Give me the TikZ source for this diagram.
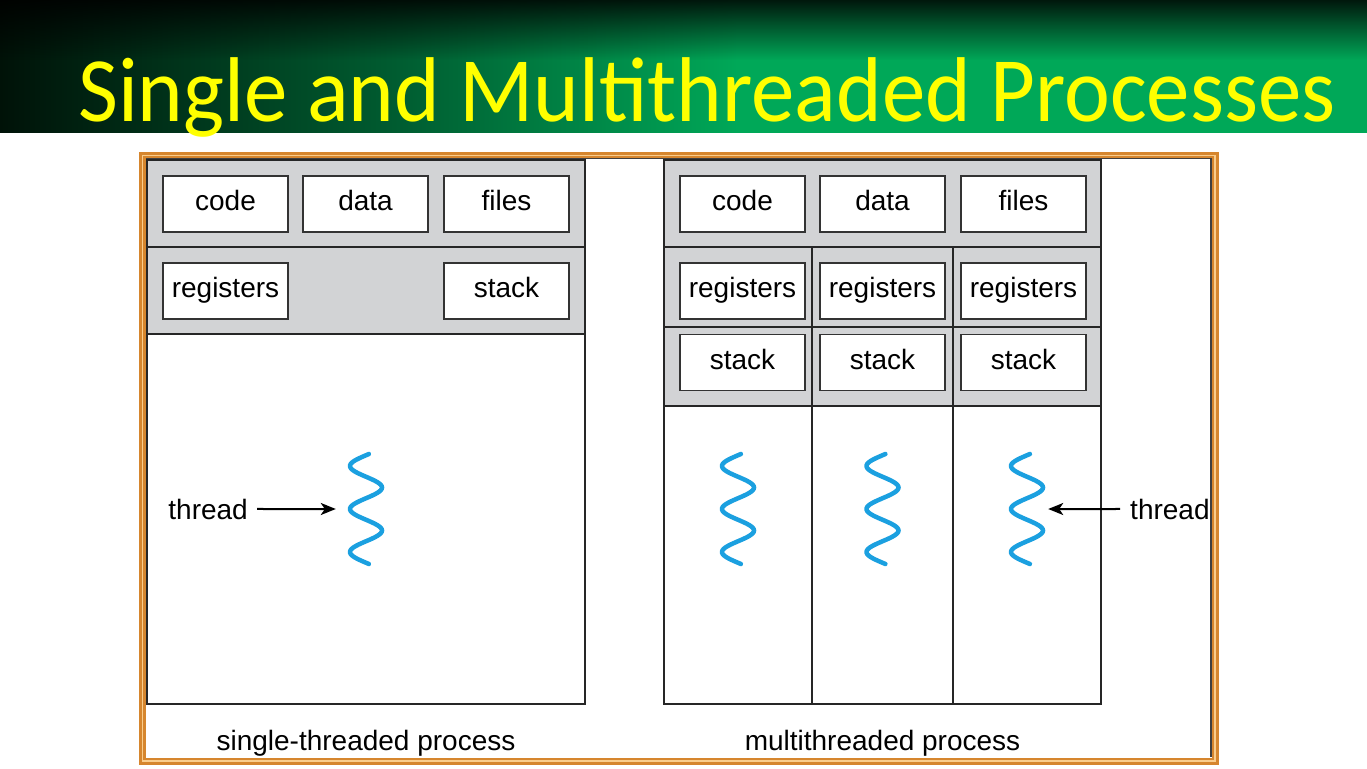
\documentclass[tikz,border=0pt]{standalone}
\usepackage{fontspec}
\setmainfont{Liberation Sans}
\newfontfamily\titlefont{Carlito}
\usetikzlibrary{arrows.meta,fadings}
\definecolor{barDark}{RGB}{0,18,8}
\definecolor{barMid}{RGB}{0,95,50}
\definecolor{barGreen}{RGB}{0,168,88}
\definecolor{titleYellow}{RGB}{255,255,0}
\definecolor{frameOrange}{RGB}{214,134,46}
\definecolor{frameLight}{RGB}{250,205,140}
\definecolor{regionGray}{RGB}{210,211,213}
\definecolor{waveBlue}{RGB}{27,160,224}
\pgfdeclarehorizontalshading{titlebar}{100bp}{color(0bp)=(barDark); color(25bp)=(barDark);
  color(40bp)=(barMid); color(52bp)=(barGreen); color(100bp)=(barGreen)}
\tikzset{
  region/.style={draw=black!85,line width=1.8pt,fill=regionGray},
  cell/.style={draw=black!85,line width=1.8pt,fill=white},
  membox/.style={draw=black!80,line width=1.6pt,fill=white,minimum width=125pt,
    minimum height=56pt,inner sep=0pt,text height=19pt,text depth=6pt},
  waveslot/.style={minimum width=36pt,minimum height=118pt,inner sep=0pt},
  wave/.style={waveBlue,line width=4.5pt,line cap=round},
  pointer/.style={-{Stealth[length=15pt,width=12pt,inset=4pt]},line width=2pt}
}
\begin{document}
\begin{tikzpicture}[x=1pt,y=-1pt,font=\fontsize{28}{34}\selectfont]
\useasboundingbox (0,0) rectangle (1367,768);
\fill[white] (0,0) rectangle (1367,768);
% title bar
\shade[shading=titlebar] (0,0) rectangle (1367,132);
\fill[black,path fading=south] (-10,-10) rectangle (1377,60);
\node[anchor=base west,inner sep=0pt,text=titleYellow,
  font=\titlefont\fontsize{92}{100}\selectfont] (title) at (78,121)
  {\scalebox{0.944}[1]{Single and Multithreaded Processes}};
% frame
\draw[frameOrange,line width=7pt] (142.5,155.5) rectangle (1215,761);
\draw[frameLight,line width=1.5pt] (142.5,155.5) rectangle (1215,761);
\draw[black!75,line width=1.5pt] (146,158.5) -- (1211,158.5) -- (1211,757);
% single-threaded process
\draw[region] (147,160) rectangle (585,247);
\draw[region] (147,247) rectangle (585,334);
\draw[cell] (147,334) rectangle (585,704);
\node[membox] (scode) at (225.5,204) {code};
\node[membox] (sdata) at (365.5,204) {data};
\node[membox] (sfiles) at (506.5,204) {files};
\node[membox] (sreg) at (225.5,291) {registers};
\node[membox] (sstack) at (506.5,291) {stack};
\node[waveslot] (swave) at (366,509) {};
\draw[wave,shift={(swave.center)}] plot[domain=-55:55,samples=80,smooth]
  ({-16*cos(8.372*\x)},\x);
\node[anchor=base east,inner sep=0pt] (sthread) at (248,519) {thread};
\draw[pointer,shorten <=9pt,shorten >=12pt] (sthread.east) -- (swave.west);
\node[anchor=base] (slabel) at (366,750) {single-threaded process};
% multithreaded process
\draw[region] (664,160) rectangle (1101,247);
\foreach \a/\b in {664/812,812/953,953/1101} {
  \draw[region] (\a,247) rectangle (\b,327);
  \draw[region] (\a,327) rectangle (\b,406);
  \draw[cell] (\a,406) rectangle (\b,704);
}
\node[membox] (mcode) at (742.5,204) {code};
\node[membox] (mdata) at (882.5,204) {data};
\node[membox] (mfiles) at (1023.5,204) {files};
\foreach \c/\i in {742.5/1,882.5/2,1023.5/3} {
  \node[membox] (mreg\i) at (\c,291) {registers};
  \node[membox] (mstack\i) at (\c,362.5) {stack};
}
\foreach \c/\i in {738/1,882.5/2,1027/3} {
  \node[waveslot] (mwave\i) at (\c,509) {};
  \draw[wave,shift={(mwave\i.center)}] plot[domain=-55:55,samples=80,smooth]
    ({-16*cos(8.372*\x)},\x);
}
\node[anchor=base west,inner sep=0pt] (mthread) at (1130,519) {thread};
\draw[pointer,shorten <=10pt,shorten >=3pt] (mthread.west) -- (mwave3.east);
\node[anchor=base] (mlabel) at (882.5,750) {multithreaded process};
\end{tikzpicture}
\end{document}
